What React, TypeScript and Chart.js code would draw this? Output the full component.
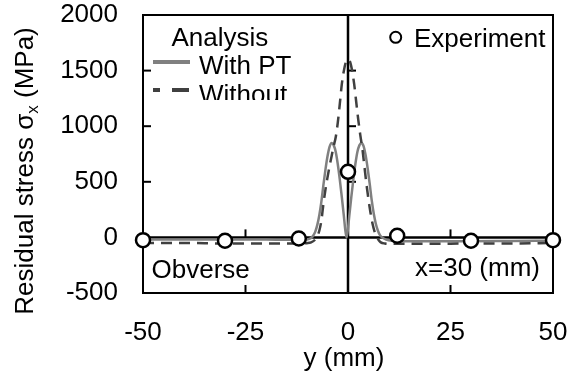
import React, { useEffect, useRef } from 'react';
import { Chart, registerables } from 'chart.js';

Chart.register(...registerables);

const FONT = '"Liberation Sans", Arial, sans-serif';
const FS = 26;

// X axis (y position, mm) tick labels and Y axis (stress, MPa) ticks
const X_TICKS = [-50, -25, 0, 25, 50];
const Y_TICKS = [-500, 0, 500, 1000, 1500, 2000];

// Analysis – With PT
const withPtX = [-50, -40, -30, -20, -15, -12, -10, -9, -8.5, -8, -7.5, -7, -6.5, -6, -5.5, -5, -4.5, -4, -3.5, -3, -2.5, -2, -1.5, -1, -0.7, -0.35, 0, 0.3, 0.8, 1.3, 1.8, 2.3, 2.8, 3.3, 3.8, 4.3, 4.8, 5.3, 5.8, 6.3, 6.8, 7.3, 7.8, 8.3, 9.3, 11, 15, 20, 30, 40, 50];
const withPtY = [-20, -20, -20, -20, -22, -22, -18, -5, 15, 50, 110, 200, 320, 470, 610, 730, 815, 850, 830, 770, 660, 520, 360, 190, 80, 0, 80, 190, 360, 520, 660, 770, 830, 850, 820, 740, 620, 480, 330, 210, 120, 60, 20, 0, -20, -30, -35, -35, -35, -32, -30];

// Analysis – Without PT
const withoutX = [-50, -40, -30, -20, -15, -12, -10, -9, -8, -7.5, -7, -6.5, -6, -5.5, -5, -4.5, -4, -3.5, -3, -2.5, -2, -1.5, -1, -0.5, 0, 0.5, 1, 1.5, 2, 2.5, 3, 3.5, 4, 4.5, 5, 5.5, 6, 6.5, 7, 7.5, 8, 9, 10, 12, 15, 20, 30, 40, 50];
const withoutY = [-50, -50, -55, -55, -55, -55, -52, -45, -20, 10, 60, 150, 300, 430, 540, 640, 730, 820, 900, 1030, 1200, 1380, 1500, 1580, 1600, 1580, 1500, 1380, 1220, 1060, 920, 800, 640, 480, 340, 220, 120, 50, 5, -25, -45, -55, -58, -58, -58, -58, -55, -55, -50];

// Experiment
const expX = [-50, -30, -12, 0, 12, 30, 50];
const expY = [-25, -30, -10, 590, 15, -30, -25];

const zip = (xs: number[], ys: number[]) => xs.map((x, i) => ({ x, y: ys[i] }));

const deco = {
  id: 'deco',
  beforeDatasetsDraw(chart: any) {
    const { ctx, chartArea: a, scales } = chart;
    const xs = scales.x, ys = scales.y;
    const ln = (x1: number, y1: number, x2: number, y2: number) => {
      ctx.beginPath(); ctx.moveTo(x1, y1); ctx.lineTo(x2, y2); ctx.stroke();
    };
    ctx.save();
    ctx.strokeStyle = '#000';
    ctx.lineWidth = 2;
    ctx.strokeRect(a.left, a.top, a.right - a.left, a.bottom - a.top);
    const x0 = xs.getPixelForValue(0), y0 = ys.getPixelForValue(0);
    ctx.lineWidth = 2.5;
    ln(x0, a.top, x0, a.bottom);
    ln(a.left, y0, a.right, y0);
    ctx.lineWidth = 2;
    [500, 1000, 1500].forEach(v => {
      const p = ys.getPixelForValue(v);
      ln(a.left, p, a.left + 8, p);
      ln(x0, p, x0 + 8, p);
    });
    [-25, 25].forEach(v => {
      const p = xs.getPixelForValue(v);
      ln(p, y0, p, y0 - 8);
      ln(p, a.bottom, p, a.bottom - 8);
    });
    ctx.restore();
  },
  afterDraw(chart: any) {
    const { ctx } = chart;
    ctx.save();
    ctx.fillStyle = '#000';
    ctx.font = `${FS}px ${FONT}`;
    ctx.textBaseline = 'alphabetic';
    ctx.textAlign = 'left';
    // legend header
    ctx.fillText('Analysis', 171.5, 45.5);
    ctx.fillText('With PT', 199, 74);
    ctx.save();
    ctx.beginPath(); ctx.rect(0, 0, 574, 100); ctx.clip();
    ctx.fillText('Without', 199, 102.5);
    ctx.restore();
    // legend samples
    ctx.strokeStyle = '#808080';
    ctx.lineWidth = 4;
    ctx.beginPath(); ctx.moveTo(153, 62); ctx.lineTo(190, 62); ctx.stroke();
    ctx.strokeStyle = '#404040';
    ctx.setLineDash([17, 12]);
    ctx.lineDashOffset = 10;
    ctx.beginPath(); ctx.moveTo(153, 90); ctx.lineTo(190, 90); ctx.stroke();
    ctx.setLineDash([]);
    // experiment legend
    ctx.beginPath(); ctx.arc(395.7, 37.3, 5.5, 0, Math.PI * 2);
    ctx.fillStyle = '#fff'; ctx.fill();
    ctx.strokeStyle = '#000'; ctx.lineWidth = 2; ctx.stroke();
    ctx.fillStyle = '#000';
    ctx.fillText('Experiment', 414, 46.5);
    // annotations
    ctx.fillText('Obverse', 151.5, 277.5);
    ctx.textAlign = 'right';
    ctx.fillText('x=30 (mm)', 540, 276);
    // x title
    ctx.textAlign = 'center';
    ctx.fillText('y (mm)', 344, 366);
    // y title (rotated, with subscript)
    ctx.save();
    ctx.translate(33, 171);
    ctx.rotate(-Math.PI / 2);
    const p1 = 'Residual stress \u03c3';
    const sub = 'x';
    const p2 = ' (MPa)';
    ctx.font = `${FS}px ${FONT}`;
    const w1 = ctx.measureText(p1).width;
    const w3 = ctx.measureText(p2).width;
    ctx.font = `${Math.round(FS * 0.65)}px ${FONT}`;
    const w2 = ctx.measureText(sub).width;
    const total = w1 + w2 + w3;
    let sx = -total / 2;
    ctx.textAlign = 'left';
    ctx.font = `${FS}px ${FONT}`;
    ctx.fillText(p1, sx, 0);
    sx += w1;
    ctx.font = `${Math.round(FS * 0.65)}px ${FONT}`;
    ctx.fillText(sub, sx, 5);
    sx += w2;
    ctx.font = `${FS}px ${FONT}`;
    ctx.fillText(p2, sx, 0);
    ctx.restore();
    ctx.restore();
  },
};

const noPad = (s: any) => { s.paddingTop = 0; s.paddingBottom = 0; s.paddingLeft = 0; s.paddingRight = 0; };

export default function App() {
  const ref = useRef<HTMLCanvasElement | null>(null);
  useEffect(() => {
    if (!ref.current) return;
    const chart = new Chart(ref.current, {
      type: 'scatter',
      data: {
        datasets: [
          {
            label: 'Experiment',
            data: zip(expX, expY),
            showLine: false,
            pointRadius: 7,
            pointBorderWidth: 2.5,
            pointBackgroundColor: '#fff',
            pointBorderColor: '#000',
            clip: false,
          } as any,
          {
            label: 'Without',
            data: zip(withoutX, withoutY),
            showLine: true,
            borderColor: '#404040',
            borderWidth: 2.5,
            borderDash: [11, 7],
            pointRadius: 0,
            cubicInterpolationMode: 'monotone',
          },
          {
            label: 'With PT',
            data: zip(withPtX, withPtY),
            showLine: true,
            borderColor: '#808080',
            borderWidth: 2.5,
            pointRadius: 0,
            cubicInterpolationMode: 'monotone',
          },
        ],
      },
      options: {
        animation: false,
        responsive: false,
        maintainAspectRatio: false,
        layout: { padding: { top: 15, right: 21, left: 0, bottom: 0 } },
        plugins: { legend: { display: false }, tooltip: { enabled: false } },
        scales: {
          x: {
            type: 'linear',
            min: -50,
            max: 50,
            afterBuildTicks: (s: any) => { s.ticks = X_TICKS.map(v => ({ value: v })); },
            afterFit: (s: any) => { s.height = 81; noPad(s); },
            ticks: { color: '#000', font: { family: FONT, size: FS }, padding: 24, callback: (v: any) => String(v), maxRotation: 0 },
            grid: { display: false, drawTicks: false },
            border: { display: false },
          },
          y: {
            type: 'linear',
            min: -500,
            max: 2000,
            afterBuildTicks: (s: any) => { s.ticks = Y_TICKS.map(v => ({ value: v })); },
            afterFit: (s: any) => { s.width = 143; noPad(s); },
            ticks: { color: '#000', font: { family: FONT, size: FS }, padding: 25, callback: (v: any) => String(v) },
            grid: { display: false, drawTicks: false },
            border: { display: false },
          },
        },
      },
      plugins: [deco],
    });
    return () => chart.destroy();
  }, []);
  return (
    <div style={{ position: 'fixed', left: 0, top: 0, width: 574, height: 374, background: '#fff' }}>
      <canvas ref={ref} width={574} height={374} style={{ display: 'block' }} />
    </div>
  );
}
